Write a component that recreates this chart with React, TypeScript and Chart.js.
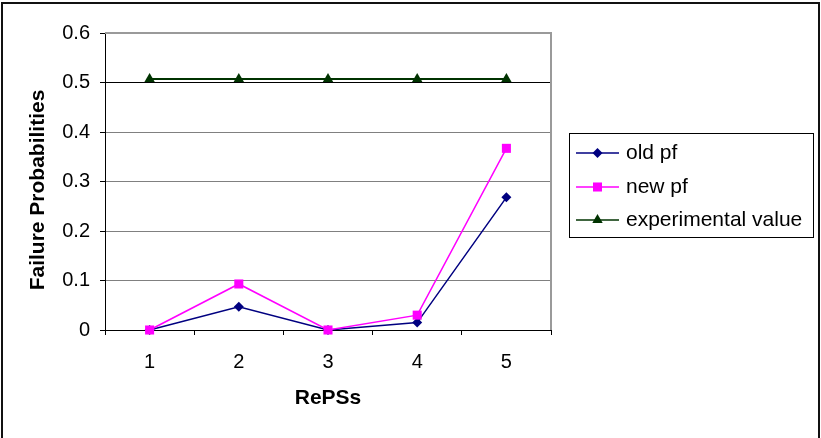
import { useEffect, useRef } from "react";
import { Chart, registerables } from "chart.js";

Chart.register(...registerables);

// Categories and series values
const repss = ["1", "2", "3", "4", "5"];
const oldPf = [0, 0.047, 0, 0.015, 0.268];
const newPf = [0, 0.093, 0, 0.03, 0.367];
const experimentalValue = [0.507, 0.507, 0.507, 0.507, 0.507];

const seriesNames = ["old pf", "new pf", "experimental value"];
const yMin = 0;
const yMax = 0.6;
const yStep = 0.1;

const FONT = "'Liberation Sans', Arial, sans-serif";

function drawMarker(ctx: CanvasRenderingContext2D, style: string, x: number, y: number, r: number, color: string) {
  ctx.save();
  ctx.fillStyle = color;
  ctx.beginPath();
  if (style === "rectRot") {
    ctx.moveTo(x, y - r);
    ctx.lineTo(x + r, y);
    ctx.lineTo(x, y + r);
    ctx.lineTo(x - r, y);
  } else if (style === "rect") {
    const s = Math.SQRT1_2 * r;
    ctx.rect(x - s, y - s, 2 * s, 2 * s);
  } else {
    const a = (2 * Math.PI) / 3;
    ctx.moveTo(x, y - r);
    ctx.lineTo(x + Math.sin(a) * r, y - Math.cos(a) * r);
    ctx.lineTo(x + Math.sin(2 * a) * r, y - Math.cos(2 * a) * r);
  }
  ctx.closePath();
  ctx.fill();
  ctx.restore();
}

// Chart frame, plot-area border, y-axis title and the boxed legend
const framePlugin = {
  id: "frame",
  beforeDatasetsDraw(chart: any) {
    const { ctx, chartArea } = chart;
    ctx.save();
    ctx.strokeStyle = "#9a9a9a";
    ctx.lineWidth = 2;
    ctx.beginPath();
    ctx.moveTo(chartArea.left, chartArea.top);
    ctx.lineTo(chartArea.right, chartArea.top);
    ctx.lineTo(chartArea.right, chartArea.bottom);
    ctx.stroke();
    ctx.restore();
  },
  afterDraw(chart: any) {
    const { ctx } = chart;
    ctx.save();
    // outer frame
    ctx.strokeStyle = "#111";
    ctx.lineWidth = 2;
    ctx.beginPath();
    ctx.moveTo(2, 440);
    ctx.lineTo(2, 3);
    ctx.lineTo(819, 3);
    ctx.lineTo(819, 440);
    ctx.stroke();

    // y-axis title
    ctx.save();
    ctx.translate(38.5, 190);
    ctx.rotate(-Math.PI / 2);
    ctx.fillStyle = "#000";
    ctx.font = `bold 21px ${FONT}`;
    ctx.textAlign = "center";
    ctx.textBaseline = "middle";
    ctx.fillText("Failure Probabilities", 0, 0);
    ctx.restore();

    // legend
    ctx.fillStyle = "#fff";
    ctx.fillRect(569.5, 133.5, 244, 104);
    ctx.strokeStyle = "#000";
    ctx.lineWidth = 1;
    ctx.strokeRect(569.5, 133.5, 244, 104);
    const rows = [153, 187, 220];
    chart.data.datasets.forEach((ds: any, i: number) => {
      const y = rows[i];
      ctx.strokeStyle = ds.borderColor;
      ctx.lineWidth = 1.5;
      ctx.beginPath();
      ctx.moveTo(576, y);
      ctx.lineTo(619, y);
      ctx.stroke();
      drawMarker(ctx, ds.pointStyle, 597.5, y, ds.pointRadius, ds.pointBackgroundColor);
      ctx.fillStyle = "#000";
      ctx.font = `21px ${FONT}`;
      ctx.textAlign = "left";
      ctx.textBaseline = "middle";
      ctx.fillText(ds.label, 626, y);
    });
    ctx.restore();
  },
};

export default function App() {
  const canvasRef = useRef<HTMLCanvasElement | null>(null);

  useEffect(() => {
    const canvas = canvasRef.current;
    if (!canvas) return;
    const chart = new Chart(canvas, {
      type: "line",
      data: {
        labels: repss,
        datasets: [
          {
            label: seriesNames[0],
            data: oldPf,
            borderColor: "#000080",
            backgroundColor: "#000080",
            pointBackgroundColor: "#000080",
            pointBorderWidth: 0,
            pointStyle: "rectRot",
            pointRadius: 5,
            borderWidth: 1.5,
            tension: 0,
            order: 3,
          },
          {
            label: seriesNames[1],
            data: newPf,
            borderColor: "#ff00ff",
            backgroundColor: "#ff00ff",
            pointBackgroundColor: "#ff00ff",
            pointBorderWidth: 0,
            pointStyle: "rect",
            pointRadius: 6.4,
            borderWidth: 1.5,
            tension: 0,
            order: 2,
          },
          {
            label: seriesNames[2],
            data: experimentalValue,
            borderColor: "#003300",
            backgroundColor: "#003300",
            pointBackgroundColor: "#003300",
            pointBorderWidth: 0,
            pointStyle: "triangle",
            pointRadius: 6,
            borderWidth: 2,
            tension: 0,
            order: 1,
          },
        ],
      },
      options: {
        responsive: false,
        animation: false,
        devicePixelRatio: 1,
        clip: false,
        layout: { padding: { top: 33, right: 270, left: 0, bottom: 0 } },
        plugins: {
          legend: { display: false },
          tooltip: { enabled: false },
        },
        scales: {
          x: {
            type: "category",
            offset: true,
            grid: {
              drawOnChartArea: false,
              drawTicks: true,
              tickLength: 5,
              tickColor: "#000",
              offset: true,
            },
            border: { display: true, color: "#000", width: 1 },
            ticks: { color: "#000", padding: 15, font: { family: FONT, size: 20 } },
            title: {
              display: true,
              text: "RePSs",
              color: "#000",
              font: { family: FONT, size: 21, weight: "bold" },
              padding: { top: 0, bottom: 27 },
            },
            afterFit: (s: any) => {
              s.height = 108;
            },
          },
          y: {
            min: yMin,
            max: yMax,
            grid: {
              color: (c: any) => (c.tick && Math.abs(c.tick.value - 0.5) < 1e-9 ? "#000" : "#808080"),
              tickColor: "#000",
              tickLength: 5,
              lineWidth: 1,
            },
            border: { display: true, color: "#000", width: 1 },
            ticks: {
              stepSize: yStep,
              color: "#000",
              padding: 10,
              font: { family: FONT, size: 20 },
              callback: (v: any) => (Number(v) === 0 ? "0" : Number(v).toFixed(1)),
            },
            afterFit: (s: any) => {
              s.width = 105;
            },
          },
        },
      },
      plugins: [framePlugin],
    });
    return () => chart.destroy();
  }, []);

  return (
    <div style={{ position: "fixed", left: 0, top: 0, width: 821, height: 438, background: "#fff" }}>
      <canvas ref={canvasRef} width={821} height={438} style={{ width: 821, height: 438, display: "block" }} />
    </div>
  );
}
